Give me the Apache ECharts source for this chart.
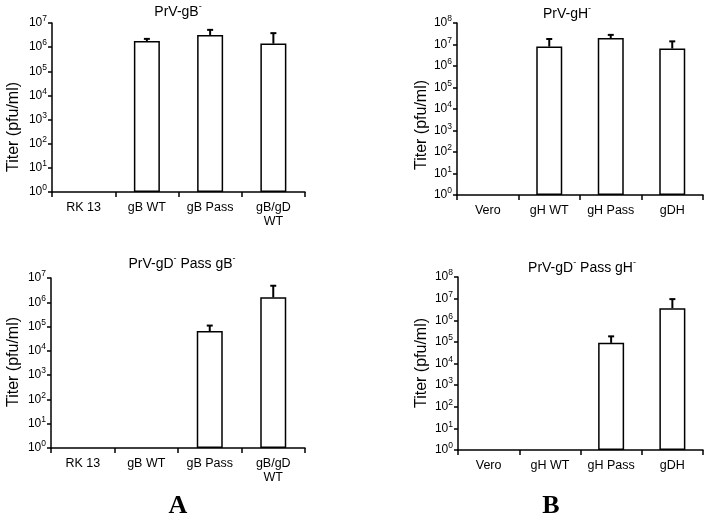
<!DOCTYPE html>
<html>
<head>
<meta charset="utf-8">
<script src="https://cdn.jsdelivr.net/npm/echarts@6/dist/echarts.min.js"></script>
<style>html,body{margin:0;padding:0;background:#fff}#c{width:710px;height:518px}</style>
</head>
<body>
<div id="c"></div>
<script>
// Panel A (top): PrV-gB-
const catsA1 = ['RK 13', 'gB WT', 'gB Pass', 'gB/gD\nWT'];
const valsA1 = ['-', 1.8e6, 3.2e6, 1.4e6];
const errA1  = ['-', 2.2e6, 5.2e6, 3.8e6];
// Panel B (top): PrV-gH-
const catsB1 = ['Vero', 'gH WT', 'gH Pass', 'gDH'];
const valsB1 = ['-', 8e6, 2.0e7, 6.5e6];
const errB1  = ['-', 1.8e7, 2.8e7, 1.4e7];
// Panel A (bottom): PrV-gD- Pass gB-
const catsA2 = ['RK 13', 'gB WT', 'gB Pass', 'gB/gD\nWT'];
const valsA2 = ['-', '-', 6.5e4, 1.6e6];
const errA2  = ['-', '-', 1.1e5, 4.8e6];
// Panel B (bottom): PrV-gD- Pass gH-
const catsB2 = ['Vero', 'gH WT', 'gH Pass', 'gDH'];
const valsB2 = ['-', '-', 9e4, 3.6e6];
const errB2  = ['-', '-', 1.8e5, 9.5e6];
// Axis ranges (decades)
const yMaxA = 1e7;
const yMaxB = 1e8;

const FONT = 'Liberation Sans, Arial, sans-serif';
const grids = [
  {left: 52, top: 23, width: 253, height: 169},
  {left: 457, top: 23, width: 246, height: 172},
  {left: 51, top: 278, width: 254, height: 170},
  {left: 458, top: 277, width: 245, height: 173}
];
const panels = [
  {cats: catsA1, vals: valsA1, errs: errA1, max: yMaxA},
  {cats: catsB1, vals: valsB1, errs: errB1, max: yMaxB},
  {cats: catsA2, vals: valsA2, errs: errA2, max: yMaxA},
  {cats: catsB2, vals: valsB2, errs: errB2, max: yMaxB}
];

const xAxes = [], yAxes = [], series = [];
panels.forEach((p, i) => {
  xAxes.push({
    type: 'category', gridIndex: i, data: p.cats,
    axisLine: {lineStyle: {color: '#000', width: 1.5}},
    axisTick: {show: true, length: 5, lineStyle: {color: '#000', width: 1.5}},
    axisLabel: {color: '#000', fontFamily: FONT, fontSize: 12.5, margin: 9, lineHeight: 14, interval: 0}
  });
  yAxes.push({
    type: 'log', logBase: 10, gridIndex: i, min: 1, max: p.max, interval: 1,
    splitLine: {show: false},
    axisLine: {show: true, lineStyle: {color: '#000', width: 1.5}},
    axisTick: {show: true, length: 4, lineStyle: {color: '#000', width: 1.5}},
    axisLabel: {
      color: '#000', fontFamily: FONT, margin: 5,
      formatter: v => '{b|10}{s|' + Math.round(Math.log10(v)) + '}',
      rich: {
        b: {fontSize: 12, fontFamily: FONT, color: '#000', lineHeight: 17},
        s: {fontSize: 8.5, fontFamily: FONT, color: '#000', lineHeight: 8, verticalAlign: 'top'}
      }
    }
  });
  series.push({
    type: 'bar', xAxisIndex: i, yAxisIndex: i, data: p.vals, barWidth: 26,
    itemStyle: {color: '#fff', borderColor: '#000', borderWidth: 1.5},
    silent: true
  });
  const errData = p.vals.map((v, k) => (v === '-' ? null : [k, v, p.errs[k]])).filter(d => d);
  series.push({
    type: 'custom', xAxisIndex: i, yAxisIndex: i, data: errData,
    encode: {x: 0, y: 1},
    renderItem: (params, api) => {
      const b = api.coord([api.value(0), api.value(1)]);
      const t = api.coord([api.value(0), api.value(2)]);
      const st = {stroke: '#000', lineWidth: 2};
      return {type: 'group', children: [
        {type: 'line', shape: {x1: b[0], y1: b[1], x2: t[0], y2: t[1]}, style: st},
        {type: 'line', shape: {x1: t[0] - 3, y1: t[1], x2: t[0] + 3, y2: t[1]}, style: st}
      ]};
    },
    silent: true, z: 3
  });
});

const supRich = {
  t: {fontSize: 14, fontFamily: FONT, fill: '#000', lineHeight: 19},
  s: {fontSize: 9, fontFamily: FONT, fill: '#000', lineHeight: 9, verticalAlign: 'top'}
};
function title(x, y, text) {
  return {type: 'text', x: x, y: y, style: {text: text, rich: supRich, textAlign: 'center', textVerticalAlign: 'middle', fill: '#000', fontFamily: FONT}};
}
function yname(x, y) {
  return {type: 'text', x: x, y: y, rotation: Math.PI / 2,
    style: {text: 'Titer (pfu/ml)', font: '16px ' + FONT, fill: '#000', textAlign: 'center', textVerticalAlign: 'middle'}};
}
function letter(x, y, t) {
  return {type: 'text', x: x, y: y,
    style: {text: t, font: 'bold 26px "Liberation Serif", "Times New Roman", serif', fill: '#000', textAlign: 'center', textVerticalAlign: 'middle'}};
}

const chart = echarts.init(document.getElementById('c'), null, {renderer: 'canvas'});
chart.setOption({
  animation: false,
  backgroundColor: '#fff',
  grid: grids,
  xAxis: xAxes,
  yAxis: yAxes,
  series: series,
  graphic: [
    title(178, 12, '{t|PrV-gB}{s|-}'),
    title(567, 14, '{t|PrV-gH}{s|-}'),
    title(182, 264, '{t|PrV-gD}{s|-}{t| Pass gB}{s|-}'),
    title(582, 268, '{t|PrV-gD}{s|-}{t| Pass gH}{s|-}'),
    yname(14, 127),
    yname(422, 125),
    yname(14, 362),
    yname(422, 363),
    letter(178, 506, 'A'),
    letter(551, 506, 'B')
  ]
});
</script>
</body>
</html>
